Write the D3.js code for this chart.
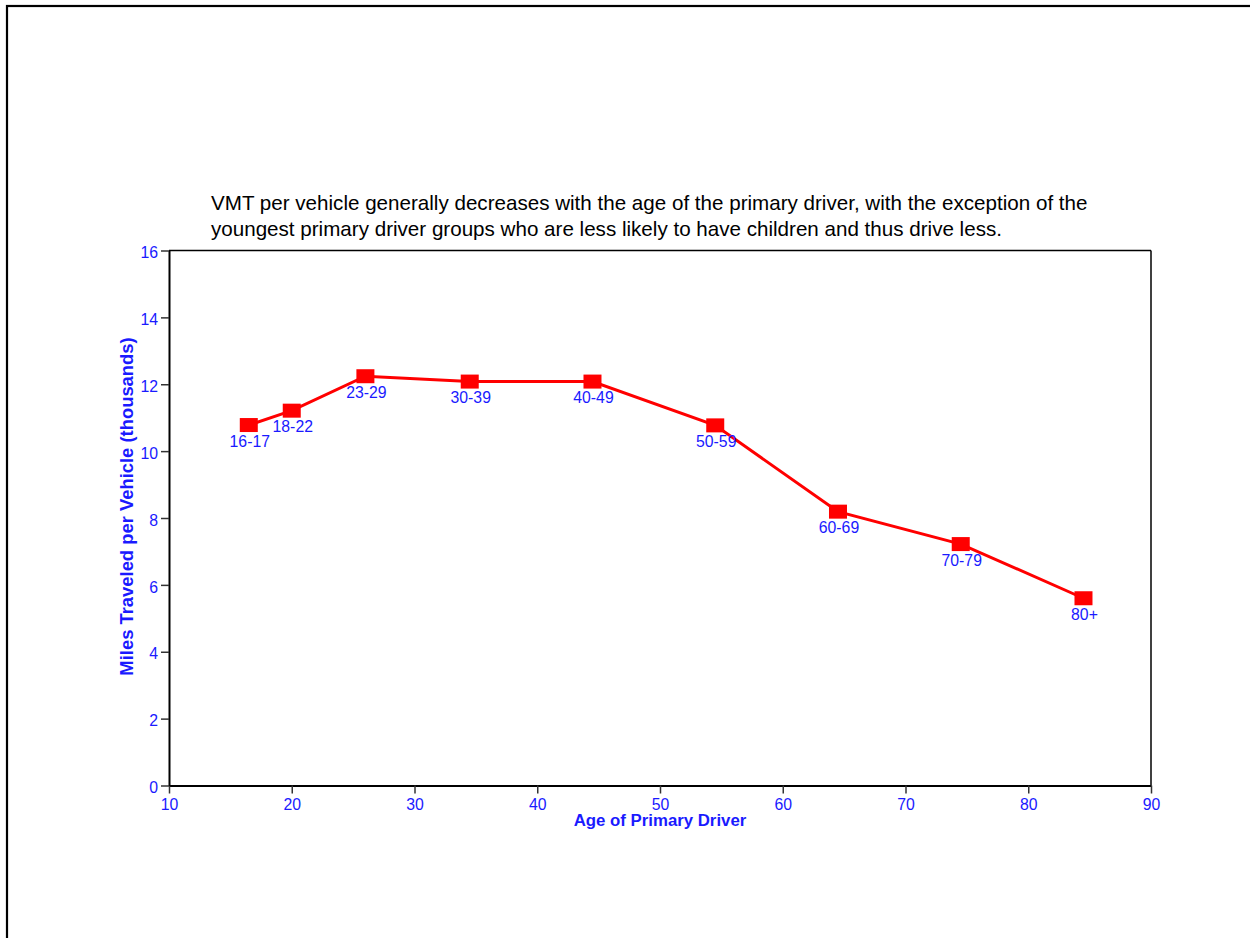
<!DOCTYPE html>
<html><head><meta charset="utf-8">
<script src="https://cdn.jsdelivr.net/npm/d3@7"></script>
<style>body{margin:0;background:#fff}svg{display:block}</style>
</head><body>
<script>
const categories = ["16-17","18-22","23-29","30-39","40-49","50-59","60-69","70-79","80+"];
const ages = [16.5, 20, 26, 34.5, 44.5, 54.5, 64.5, 74.5, 84.5];
const vmt = [10.78, 11.21, 12.24, 12.08, 12.08, 10.77, 8.19, 7.22, 5.6];
const xTicks = [10,20,30,40,50,60,70,80,90];
const yTicks = [0,2,4,6,8,10,12,14,16];
const titleLines = ["VMT per vehicle generally decreases with the age of the primary driver, with the exception of the",
  "youngest primary driver groups who are less likely to have children and thus drive less."];

const W = 1250, H = 938;
const blue = "#1a1aff";
const font = "'Liberation Sans', Arial, sans-serif";
const svg = d3.select("body").append("svg").attr("width", W).attr("height", H);

// outer frame
svg.append("rect").attr("x",7).attr("y",6).attr("width",W+20).attr("height",H+20)
  .attr("fill","none").attr("stroke","#000").attr("stroke-width",2.2);

const x = d3.scaleLinear().domain([10,90]).range([169,1151]);
const y = d3.scaleLinear().domain([0,16]).range([785.5,250.5]);

// plot frame top/right
svg.append("line").attr("x1",169).attr("x2",1151).attr("y1",y(16)).attr("y2",y(16)).attr("stroke","#000").attr("stroke-width",1.5);
svg.append("line").attr("x1",1151).attr("x2",1151).attr("y1",y(16)).attr("y2",y(0)).attr("stroke","#000").attr("stroke-width",1.5);

const xAxis = svg.append("g").attr("transform",`translate(0,${y(0)})`)
  .call(d3.axisBottom(x).tickValues(xTicks).tickSize(8).tickPadding(5).tickSizeOuter(0));
const yAxis = svg.append("g").attr("transform",`translate(169,0)`)
  .call(d3.axisLeft(y).tickValues(yTicks).tickSize(8).tickPadding(3).tickSizeOuter(0));
[xAxis,yAxis].forEach(g=>{
  g.select(".domain").attr("stroke","#000").attr("stroke-width",2);
  g.selectAll(".tick line").attr("stroke","#333").attr("stroke-width",1.5);
  g.selectAll(".tick text").attr("fill",blue).attr("font-family",font).attr("font-size",15.8);
});
yAxis.selectAll(".tick text").attr("dy","0.45em");

// line
const line = d3.line().x((d,i)=>x(ages[i])).y(d=>y(d));
svg.append("path").datum(vmt).attr("d",line).attr("fill","none").attr("stroke","#ff0000").attr("stroke-width",3);

svg.selectAll("rect.m").data(vmt).enter().append("rect").attr("class","m")
  .attr("x",(d,i)=>x(ages[i])-9).attr("y",d=>y(d)-7).attr("width",18).attr("height",14).attr("fill","#ff0000");

svg.selectAll("text.lbl").data(vmt).enter().append("text").attr("class","lbl")
  .attr("x",(d,i)=>x(ages[i])+1).attr("y",d=>y(d)+21.5).attr("text-anchor","middle")
  .attr("fill",blue).attr("font-family",font).attr("font-size",15.8).text((d,i)=>categories[i]);

// axis titles
svg.append("text").attr("x",660).attr("y",826).attr("text-anchor","middle").attr("fill",blue)
  .attr("font-family",font).attr("font-size",16.8).attr("font-weight","bold").text("Age of Primary Driver");
svg.append("text").attr("transform","translate(133,506.5) rotate(-90)").attr("text-anchor","middle").attr("fill",blue)
  .attr("font-family",font).attr("font-size",18.4).attr("font-weight","bold").text("Miles Traveled per Vehicle (thousands)");

// title
svg.selectAll("text.title").data(titleLines).enter().append("text").attr("class","title")
  .attr("x",211).attr("y",(d,i)=>210+i*26).attr("fill","#000").attr("font-family",font).attr("font-size",20.6).text(d=>d);
</script>
</body></html>
